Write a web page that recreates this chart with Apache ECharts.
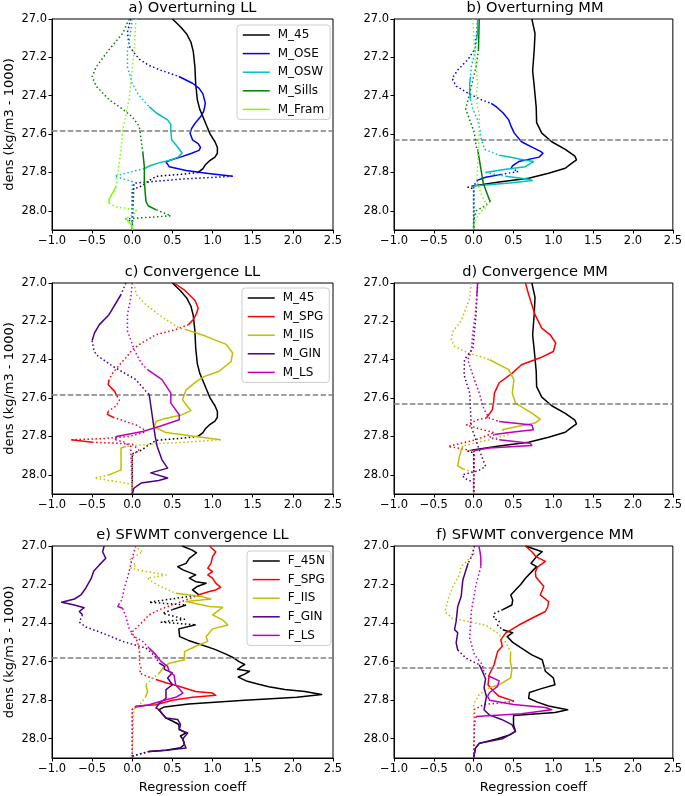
<!DOCTYPE html>
<html>
<head>
<meta charset="utf-8">
<script src="https://cdn.jsdelivr.net/npm/echarts@6/dist/echarts.min.js"></script>
<style>
html,body{margin:0;padding:0;background:#fff;}
#chart{width:685px;height:796px;}
</style>
</head>
<body>
<div id="chart"></div>
<script>
// ---------- axis ticks / reference levels ----------
const Y_TICKS = [27.0, 27.2, 27.4, 27.6, 27.8, 28.0];
const X_TICKS = [-1.0, -0.5, 0.0, 0.5, 1.0, 1.5, 2.0, 2.5];
const THRESH_LL = 27.58;
const THRESH_MM = 27.63;
const X_LABEL = 'Regression coeff';
const Y_LABEL = 'dens (kg/m3 - 1000)';

// ---------- data: [density, coefficient, significant(1)=solid / 0=dotted] ----------
// a) Overturning LL  /  c) Convergence LL
const M45_LL = [[27.00,0.50,1],[27.04,0.60,1],[27.08,0.68,1],[27.12,0.73,1],[27.17,0.76,1],[27.25,0.78,1],[27.34,0.79,1],[27.42,0.81,1],[27.47,0.84,1],[27.51,0.88,1],[27.56,0.93,1],[27.60,0.97,1],[27.64,1.03,1],[27.67,1.06,1],[27.70,1.06,1],[27.72,1.03,1],[27.74,0.96,1],[27.76,0.91,1],[27.78,0.88,1],[27.80,0.82,0],[27.81,0.60,0],[27.82,0.30,0],[27.845,0.20,0],[27.87,0.12,0],[27.89,0.00,0],[28.10,0.00,0]];
const M_OSE_LL = [[27.00,-0.02,0],[27.07,-0.06,0],[27.14,-0.04,0],[27.18,0.03,0],[27.21,0.09,0],[27.24,0.20,0],[27.265,0.34,0],[27.285,0.48,0],[27.30,0.58,1],[27.335,0.75,1],[27.36,0.83,1],[27.39,0.88,1],[27.44,0.91,1],[27.48,0.89,1],[27.51,0.85,1],[27.545,0.78,1],[27.57,0.74,1],[27.595,0.72,1],[27.63,0.75,1],[27.65,0.82,1],[27.67,0.85,1],[27.685,0.83,1],[27.70,0.74,1],[27.72,0.60,1],[27.735,0.48,1],[27.745,0.42,1],[27.77,0.46,1],[27.79,0.67,1],[27.805,0.95,1],[27.82,1.25,0],[27.835,0.60,0],[27.856,0.02,0],[28.10,0.00,0]];
const M_OSW_LL = [[27.00,0.00,0],[27.07,-0.02,0],[27.16,-0.06,0],[27.25,-0.06,0],[27.335,0.00,0],[27.39,0.07,0],[27.43,0.15,0],[27.457,0.21,1],[27.49,0.30,1],[27.526,0.44,1],[27.55,0.48,1],[27.58,0.48,1],[27.63,0.49,1],[27.665,0.56,1],[27.70,0.62,1],[27.72,0.57,1],[27.735,0.48,1],[27.75,0.33,1],[27.765,0.22,1],[27.78,0.15,0],[27.80,-0.05,0],[27.82,-0.22,0],[27.835,-0.10,0],[27.848,0.00,0],[28.10,0.00,0]];
const M_SILLS_LL = [[27.00,-0.04,0],[27.075,-0.12,0],[27.16,-0.29,0],[27.25,-0.45,0],[27.30,-0.50,0],[27.35,-0.45,0],[27.42,-0.29,0],[27.47,-0.12,0],[27.51,0.00,0],[27.56,0.087,0],[27.63,0.11,0],[27.69,0.13,1],[27.77,0.15,1],[27.84,0.15,1],[27.90,0.16,1],[27.95,0.17,1],[27.975,0.20,1],[27.995,0.30,0],[28.026,0.48,0],[28.042,-0.08,0],[28.06,0.00,0],[28.10,0.00,0]];
const M_FRAM_LL = [[27.00,0.045,0],[27.16,0.025,0],[27.335,-0.02,0],[27.42,-0.04,0],[27.50,-0.08,0],[27.58,-0.12,0],[27.68,-0.14,0],[27.77,-0.17,0],[27.83,-0.19,0],[27.873,-0.20,1],[27.91,-0.25,1],[27.94,-0.29,1],[27.96,-0.29,0],[27.98,-0.20,0],[27.995,0.045,0],[28.01,0.05,0],[28.04,-0.08,1],[28.06,-0.04,1],[28.08,0.00,1],[28.10,0.00,1]];
// b) Overturning MM  /  d) Convergence MM
const M45_MM = [[27.00,0.73,1],[27.075,0.77,1],[27.16,0.76,1],[27.27,0.74,1],[27.35,0.76,1],[27.46,0.785,1],[27.54,0.79,1],[27.595,0.855,1],[27.64,0.98,1],[27.68,1.15,1],[27.715,1.27,1],[27.734,1.29,1],[27.755,1.22,1],[27.778,1.15,1],[27.804,0.94,1],[27.83,0.69,1],[27.85,0.32,1],[27.87,-0.01,0],[27.877,-0.07,0],[27.885,0.00,0],[28.10,0.00,0]];
const M_OSE_MM = [[27.00,0.05,0],[27.075,0.04,0],[27.16,0.01,0],[27.21,-0.07,0],[27.266,-0.20,0],[27.31,-0.27,0],[27.35,-0.22,0],[27.387,-0.07,0],[27.42,0.09,0],[27.44,0.22,1],[27.46,0.29,1],[27.49,0.37,1],[27.526,0.44,1],[27.56,0.47,1],[27.595,0.51,1],[27.64,0.60,1],[27.672,0.75,1],[27.69,0.84,1],[27.70,0.87,1],[27.72,0.82,1],[27.743,0.567,1],[27.764,0.49,1],[27.778,0.47,0],[27.795,0.56,0],[27.81,0.35,1],[27.825,0.15,1],[27.84,0.05,0],[27.87,0.00,0],[28.10,0.00,0]];
const M_OSW_MM = [[27.00,0.05,1],[27.06,0.05,1],[27.10,0.04,0],[27.16,0.02,0],[27.25,-0.03,0],[27.30,-0.04,1],[27.335,-0.05,1],[27.38,-0.05,1],[27.42,-0.04,0],[27.47,-0.01,0],[27.526,0.05,0],[27.58,0.08,0],[27.63,0.095,0],[27.68,0.14,0],[27.71,0.32,1],[27.72,0.45,1],[27.73,0.57,1],[27.743,0.75,1],[27.77,0.65,1],[27.786,0.36,1],[27.80,0.15,0],[27.82,0.40,1],[27.835,0.69,1],[27.842,0.735,1],[27.855,0.45,1],[27.87,0.00,0],[28.10,0.00,0]];
const M_SILLS_MM = [[27.00,0.07,1],[27.08,0.065,1],[27.16,0.06,0],[27.25,0.03,0],[27.35,-0.03,0],[27.42,-0.07,0],[27.47,-0.10,0],[27.526,-0.05,0],[27.595,0.01,0],[27.665,0.03,0],[27.68,0.05,1],[27.78,0.09,1],[27.856,0.12,1],[27.89,0.15,1],[27.94,0.195,1],[27.95,0.21,0],[27.977,0.13,0],[28.00,0.03,0],[28.05,0.00,0],[28.10,0.00,0]];
const M_FRAM_MM = [[27.00,-0.01,0],[27.16,0.01,0],[27.335,0.05,0],[27.42,0.03,0],[27.50,0.07,0],[27.595,0.07,0],[27.68,0.06,0],[27.77,0.05,0],[27.84,0.04,0],[27.908,0.09,0],[27.977,0.17,0],[28.00,0.10,0],[28.03,0.05,0],[28.055,0.01,0],[28.10,0.00,0]];
// c) Convergence LL
const M_SPG_LL = [[27.00,0.52,1],[27.04,0.66,1],[27.09,0.78,1],[27.13,0.82,1],[27.16,0.80,1],[27.19,0.76,1],[27.217,0.70,0],[27.243,0.54,0],[27.27,0.29,0],[27.32,0.09,0],[27.348,0.00,0],[27.39,-0.08,0],[27.417,-0.14,0],[27.47,-0.245,0],[27.504,-0.29,1],[27.53,-0.30,1],[27.565,-0.22,1],[27.59,-0.19,0],[27.61,-0.16,0],[27.64,-0.20,0],[27.67,-0.30,1],[27.685,-0.31,1],[27.70,-0.24,0],[27.74,0.045,0],[27.765,0.15,0],[27.78,0.14,0],[27.80,-0.04,0],[27.812,-0.40,0],[27.817,-0.76,1],[27.83,-0.50,0],[27.835,-0.20,0],[27.84,0.00,0],[27.87,0.08,0],[27.90,0.00,0],[28.10,0.00,0]];
const M_IIS_LL = [[27.00,0.02,0],[27.06,0.05,0],[27.113,0.17,0],[27.18,0.38,0],[27.235,0.585,0],[27.243,0.67,1],[27.278,0.92,1],[27.32,1.17,1],[27.365,1.25,1],[27.41,1.23,1],[27.46,1.08,1],[27.487,0.90,1],[27.513,0.80,1],[27.557,0.67,1],[27.608,0.625,1],[27.635,0.67,1],[27.665,0.73,1],[27.69,0.60,1],[27.705,0.42,1],[27.72,0.30,1],[27.75,0.27,1],[27.765,0.35,1],[27.78,0.42,1],[27.80,0.79,1],[27.817,1.10,0],[27.83,0.67,0],[27.838,0.29,0],[27.852,-0.08,1],[27.86,-0.14,1],[27.90,-0.14,1],[27.974,-0.14,1],[28.00,-0.29,0],[28.017,-0.47,0],[28.035,-0.20,0],[28.05,0.00,0],[28.10,0.00,0]];
const M_GIN_LL = [[27.00,-0.08,0],[27.04,-0.12,0],[27.06,-0.14,1],[27.165,-0.29,1],[27.217,-0.41,1],[27.26,-0.47,1],[27.30,-0.50,0],[27.348,-0.48,0],[27.374,-0.45,0],[27.435,-0.24,0],[27.504,0.045,0],[27.574,0.19,0],[27.58,0.21,1],[27.696,0.25,1],[27.80,0.285,1],[27.852,0.31,1],[27.922,0.37,1],[27.965,0.44,1],[27.99,0.23,1],[28.017,0.44,1],[28.03,0.33,1],[28.043,0.11,1],[28.07,0.02,1],[28.10,0.00,1]];
const M_LS_LL = [[27.00,0.00,0],[27.08,-0.02,0],[27.165,-0.06,0],[27.25,-0.06,0],[27.348,0.025,0],[27.417,0.11,0],[27.452,0.19,1],[27.504,0.37,1],[27.574,0.48,1],[27.626,0.48,1],[27.687,0.585,1],[27.713,0.585,1],[27.748,0.335,1],[27.774,0.13,1],[27.80,-0.20,1],[27.817,-0.21,0],[27.83,-0.10,0],[27.852,-0.02,0],[28.10,0.00,0]];
// d) Convergence MM
const M_SPG_MM = [[27.00,0.65,1],[27.06,0.69,1],[27.165,0.77,1],[27.235,0.855,1],[27.27,0.96,1],[27.313,1.03,1],[27.357,1.00,1],[27.39,0.835,1],[27.426,0.60,1],[27.47,0.485,1],[27.52,0.32,1],[27.574,0.26,1],[27.62,0.25,1],[27.66,0.235,1],[27.704,0.16,0],[27.713,0.05,0],[27.74,-0.09,0],[27.765,0.11,0],[27.78,0.26,0],[27.817,0.03,0],[27.852,-0.32,0],[27.873,-0.03,0],[27.88,0.00,0],[28.10,0.00,0]];
const M_IIS_MM = [[27.00,-0.03,0],[27.08,-0.05,0],[27.20,-0.16,0],[27.252,-0.26,0],[27.296,-0.28,0],[27.33,-0.24,0],[27.365,-0.07,0],[27.39,0.13,0],[27.40,0.20,1],[27.452,0.44,1],[27.504,0.505,1],[27.574,0.485,1],[27.626,0.525,1],[27.678,0.73,1],[27.71,0.835,1],[27.73,0.77,1],[27.748,0.545,1],[27.765,0.36,0],[27.79,0.44,0],[27.817,0.195,0],[27.849,-0.136,1],[27.905,-0.18,1],[27.953,-0.20,1],[27.97,-0.13,0],[27.983,-0.03,0],[28.00,0.00,0],[28.10,0.00,0]];
const M_GIN_MM = [[27.00,0.05,0],[27.165,0.03,0],[27.339,-0.01,0],[27.40,-0.115,0],[27.48,-0.12,0],[27.574,-0.05,0],[27.748,-0.03,0],[27.87,0.07,0],[27.957,0.15,0],[27.98,0.05,0],[28.00,-0.14,0],[28.017,-0.12,0],[28.04,0.00,0],[28.10,0.00,0]];
const M_LS_MM = [[27.00,0.05,1],[27.06,0.04,0],[27.165,0.02,0],[27.252,-0.01,0],[27.357,-0.03,0],[27.40,-0.075,0],[27.504,0.01,0],[27.574,0.07,0],[27.66,0.13,0],[27.704,0.195,0],[27.722,0.32,1],[27.74,0.73,1],[27.765,0.75,1],[27.777,0.50,1],[27.79,0.26,0],[27.805,0.20,0],[27.817,0.32,1],[27.835,0.71,1],[27.847,0.73,1],[27.86,0.195,1],[27.873,0.01,0],[28.10,0.00,0]];
// e) SFWMT convergence LL
const F_45N_LL = [[27.00,0.62,1],[27.02,0.74,1],[27.035,0.80,1],[27.064,0.71,1],[27.09,0.67,1],[27.107,0.565,1],[27.124,0.63,1],[27.15,0.79,1],[27.167,0.71,1],[27.185,0.79,1],[27.193,0.92,1],[27.21,0.81,1],[27.228,0.75,1],[27.254,0.83,0],[27.292,0.21,0],[27.306,0.67,1],[27.33,0.50,0],[27.349,0.38,0],[27.38,0.65,0],[27.395,0.36,0],[27.409,0.79,1],[27.43,0.58,1],[27.47,0.59,1],[27.49,0.70,1],[27.51,0.84,1],[27.535,1.02,1],[27.56,1.16,1],[27.58,1.26,1],[27.60,1.33,1],[27.615,1.40,1],[27.625,1.36,1],[27.64,1.31,1],[27.65,1.46,1],[27.665,1.40,1],[27.68,1.32,1],[27.70,1.42,1],[27.715,1.55,1],[27.73,1.70,1],[27.745,1.90,1],[27.755,2.15,1],[27.77,2.36,1],[27.785,2.05,1],[27.80,1.40,1],[27.82,0.70,1],[27.835,0.40,1],[27.85,0.33,1],[27.874,0.38,1],[27.893,0.42,1],[27.908,0.50,1],[27.926,0.58,1],[27.952,0.585,1],[27.97,0.67,1],[27.986,0.60,1],[28.003,0.63,1],[28.03,0.65,1],[28.047,0.60,1],[28.06,0.42,1],[28.066,0.21,0],[28.09,0.00,0],[28.10,0.00,0]];
const F_SPG_LL = [[27.00,0.96,1],[27.03,1.04,1],[27.055,1.00,1],[27.09,0.98,1],[27.115,0.94,1],[27.133,1.00,1],[27.15,0.94,1],[27.167,1.00,1],[27.193,1.04,1],[27.214,1.10,1],[27.228,1.04,1],[27.236,0.96,1],[27.253,0.83,0],[27.28,0.67,0],[27.305,0.50,0],[27.33,0.34,0],[27.357,0.21,0],[27.41,0.09,0],[27.452,-0.016,0],[27.495,0.066,0],[27.55,0.09,0],[27.607,0.09,0],[27.634,0.11,0],[27.66,0.09,0],[27.677,0.19,0],[27.693,0.295,1],[27.71,0.42,1],[27.728,0.58,1],[27.755,0.79,1],[27.763,1.00,1],[27.775,1.04,1],[27.785,0.75,1],[27.80,0.50,1],[27.824,0.295,1],[27.83,0.046,0],[27.848,0.00,0],[28.10,0.00,0]];
const F_IIS_LL = [[27.00,0.025,0],[27.03,0.13,0],[27.072,-0.04,0],[27.10,0.05,0],[27.115,-0.016,0],[27.13,0.14,0],[27.15,0.42,0],[27.167,0.19,0],[27.20,0.30,0],[27.245,0.54,1],[27.263,0.875,1],[27.275,0.98,1],[27.288,0.67,1],[27.314,0.96,1],[27.318,1.125,1],[27.357,1.00,1],[27.383,1.125,1],[27.41,1.19,1],[27.43,1.00,1],[27.47,0.92,1],[27.495,0.94,1],[27.52,0.79,1],[27.548,0.65,1],[27.59,0.65,1],[27.608,0.46,1],[27.634,0.38,1],[27.66,0.335,0],[27.686,0.25,0],[27.72,0.17,1],[27.755,0.19,1],[27.78,0.17,0],[27.824,0.09,0],[27.845,0.02,0],[28.10,0.00,0]];
const F_GIN_LL = [[27.00,-0.35,1],[27.03,-0.37,1],[27.064,-0.33,1],[27.098,-0.41,1],[27.13,-0.48,1],[27.167,-0.51,1],[27.219,-0.58,1],[27.254,-0.64,1],[27.275,-0.72,1],[27.292,-0.88,1],[27.306,-0.72,1],[27.32,-0.60,1],[27.34,-0.66,1],[27.357,-0.62,0],[27.395,-0.66,0],[27.42,-0.58,0],[27.452,-0.37,0],[27.495,-0.12,0],[27.53,0.17,0],[27.57,0.28,0],[27.608,0.336,1],[27.624,0.40,1],[27.64,0.40,1],[27.658,0.50,1],[27.685,0.44,1],[27.72,0.50,1],[27.745,0.42,1],[27.79,0.42,1],[27.814,0.34,1],[27.84,0.295,1],[27.85,0.336,1],[27.874,0.38,1],[27.893,0.42,1],[27.90,0.565,1],[27.926,0.60,1],[27.953,0.585,1],[27.97,0.69,1],[27.98,0.67,1],[28.00,0.63,1],[28.03,0.65,1],[28.048,0.67,1],[28.06,0.42,1],[28.066,0.21,0],[28.09,0.00,0],[28.10,0.00,0]];
const F_LS_LL = [[27.00,0.04,0],[27.064,0.00,0],[27.15,-0.05,0],[27.219,-0.10,0],[27.28,-0.13,0],[27.297,-0.16,1],[27.314,-0.18,1],[27.323,-0.12,0],[27.366,-0.08,0],[27.426,-0.04,0],[27.47,0.025,0],[27.495,0.13,0],[27.53,0.21,1],[27.565,0.295,1],[27.60,0.36,1],[27.625,0.44,1],[27.651,0.46,1],[27.67,0.52,1],[27.72,0.54,1],[27.763,0.63,1],[27.785,0.54,1],[27.80,0.40,1],[27.824,0.21,1],[27.835,0.05,0],[27.848,0.00,0],[28.10,0.00,0]];
// f) SFWMT convergence MM
const F_45N_MM = [[27.00,0.65,1],[27.03,0.86,1],[27.05,0.80,1],[27.09,0.72,1],[27.107,0.79,1],[27.133,0.73,1],[27.167,0.65,1],[27.20,0.59,1],[27.228,0.525,1],[27.254,0.465,1],[27.28,0.49,1],[27.306,0.48,1],[27.33,0.365,0],[27.35,0.26,0],[27.374,0.25,0],[27.39,0.32,0],[27.41,0.30,0],[27.435,0.365,1],[27.45,0.49,1],[27.47,0.42,1],[27.50,0.49,1],[27.53,0.60,1],[27.565,0.73,1],[27.59,0.86,1],[27.62,0.88,1],[27.65,0.90,1],[27.684,1.00,1],[27.72,1.02,1],[27.74,0.85,1],[27.76,0.70,1],[27.79,0.69,1],[27.81,0.80,1],[27.83,0.94,1],[27.85,1.18,1],[27.864,1.02,1],[27.88,0.50,1],[27.90,0.50,1],[27.927,0.50,1],[27.962,0.525,1],[27.98,0.45,1],[28.00,0.30,1],[28.024,0.07,1],[28.05,0.02,1],[28.10,0.00,1]];
const F_SPG_MM = [[27.00,0.65,1],[27.03,0.73,1],[27.055,0.78,1],[27.08,0.90,1],[27.11,0.80,1],[27.133,0.775,1],[27.16,0.78,1],[27.21,0.88,1],[27.254,0.835,1],[27.288,0.94,1],[27.315,0.93,1],[27.34,0.90,1],[27.375,0.73,1],[27.41,0.567,1],[27.452,0.40,1],[27.487,0.34,1],[27.52,0.36,1],[27.548,0.30,1],[27.616,0.256,1],[27.668,0.195,1],[27.72,0.18,1],[27.75,0.24,1],[27.78,0.32,1],[27.805,0.505,0],[27.814,0.34,0],[27.822,0.13,0],[27.848,0.01,0],[28.10,0.00,0]];
const F_IIS_MM = [[27.00,-0.03,0],[27.038,0.01,0],[27.072,-0.07,0],[27.107,-0.157,0],[27.15,-0.18,0],[27.21,-0.26,0],[27.262,-0.31,0],[27.34,-0.36,0],[27.375,-0.27,0],[27.41,0.15,0],[27.452,0.30,0],[27.50,0.40,0],[27.548,0.464,1],[27.557,0.48,1],[27.60,0.46,1],[27.64,0.48,1],[27.684,0.464,1],[27.72,0.32,1],[27.736,0.195,0],[27.77,0.07,0],[27.82,0.00,0],[28.10,0.00,0]];
const F_GIN_MM = [[27.00,0.01,0],[27.05,-0.02,0],[27.09,-0.07,1],[27.176,-0.136,1],[27.262,-0.157,1],[27.314,-0.20,1],[27.39,-0.22,1],[27.434,-0.24,1],[27.45,-0.20,1],[27.503,-0.22,1],[27.54,-0.20,0],[27.582,-0.095,0],[27.616,0.07,1],[27.651,0.11,1],[27.69,0.15,1],[27.736,0.13,1],[27.78,0.16,1],[27.85,0.13,1],[27.876,0.195,1],[27.90,0.35,1],[27.927,0.48,1],[27.962,0.525,1],[27.98,0.45,1],[28.00,0.36,1],[28.024,0.07,1],[28.05,0.02,1],[28.10,0.00,1]];
const F_LS_MM = [[27.00,0.065,1],[27.03,0.08,1],[27.06,0.09,1],[27.107,0.09,0],[27.20,0.03,0],[27.34,-0.03,0],[27.478,-0.05,0],[27.565,0.01,0],[27.616,0.11,0],[27.658,0.13,0],[27.676,0.195,1],[27.70,0.32,1],[27.728,0.30,1],[27.76,0.20,1],[27.78,0.175,1],[27.80,0.20,1],[27.822,0.50,1],[27.838,0.90,1],[27.85,0.98,1],[27.87,0.60,1],[27.885,0.03,0],[27.934,0.01,0],[28.10,0.00,0]];

// ---------- styling ----------
const FONT = 'DejaVu Sans';
const COL = {M_45:'#000000', M_OSE:'#0000ff', M_OSW:'#00bfbf', M_Sills:'#008000', M_Fram:'#7cfc00',
             M_SPG:'#ff0000', M_IIS:'#bfbf00', M_GIN:'#4b0082', M_LS:'#bf00bf',
             F_45N:'#000000', F_SPG:'#ff0000', F_IIS:'#bfbf00', F_GIN:'#4b0082', F_LS:'#bf00bf'};

const LEFT_X = 52, RIGHT_X = 394, PW_L = 281, PW_R = 282;
const panels = [
  {key:'a', title:'a) Overturning LL', grid:[LEFT_X, 19, PW_L, 211], thr:THRESH_LL, left:true, bottom:false,
   legend:[237, 25], curves:[['M_45',M45_LL],['M_OSE',M_OSE_LL],['M_OSW',M_OSW_LL],['M_Sills',M_SILLS_LL],['M_Fram',M_FRAM_LL]]},
  {key:'b', title:'b) Overturning MM', grid:[RIGHT_X, 19, PW_R, 211], thr:THRESH_MM, left:false, bottom:false,
   legend:null, curves:[['M_45',M45_MM],['M_OSE',M_OSE_MM],['M_OSW',M_OSW_MM],['M_Sills',M_SILLS_MM],['M_Fram',M_FRAM_MM]]},
  {key:'c', title:'c) Convergence LL', grid:[LEFT_X, 283, PW_L, 211], thr:THRESH_LL, left:true, bottom:false,
   legend:[242, 288], curves:[['M_45',M45_LL],['M_SPG',M_SPG_LL],['M_IIS',M_IIS_LL],['M_GIN',M_GIN_LL],['M_LS',M_LS_LL]]},
  {key:'d', title:'d) Convergence MM', grid:[RIGHT_X, 283, PW_R, 211], thr:THRESH_MM, left:false, bottom:false,
   legend:null, curves:[['M_45',M45_MM],['M_SPG',M_SPG_MM],['M_IIS',M_IIS_MM],['M_GIN',M_GIN_MM],['M_LS',M_LS_MM]]},
  {key:'e', title:'e) SFWMT convergence LL', grid:[LEFT_X, 546, PW_L, 212], thr:THRESH_LL, left:true, bottom:true,
   legend:[247, 551], curves:[['F_45N',F_45N_LL],['F_SPG',F_SPG_LL],['F_IIS',F_IIS_LL],['F_GIN',F_GIN_LL],['F_LS',F_LS_LL]]},
  {key:'f', title:'f) SFWMT convergence MM', grid:[RIGHT_X, 546, PW_R, 212], thr:THRESH_MM, left:false, bottom:true,
   legend:null, curves:[['F_45N',F_45N_MM],['F_SPG',F_SPG_MM],['F_IIS',F_IIS_MM],['F_GIN',F_GIN_MM],['F_LS',F_LS_MM]]}
];

function fmtX(v){ const s = Math.abs(v).toFixed(1); return v < 0 ? '\u2212' + s : s; }

// split a curve into runs of solid / dotted segments (flag of a point = style of segment starting at it)
function splitRuns(pts){
  const runs = [];
  let cur = null;
  for (let i = 0; i < pts.length - 1; i++){
    const st = pts[i][2];
    if (!cur || cur.st !== st){
      cur = {st:st, pts:[pts[i]]};
      runs.push(cur);
    }
    cur.pts.push(pts[i+1]);
  }
  return runs;
}

const grids = [], xAxes = [], yAxes = [], series = [], legends = [], graphics = [];
panels.forEach((p, gi) => {
  grids.push({left:p.grid[0], top:p.grid[1], width:p.grid[2], height:p.grid[3],
              show:true, borderColor:'#000', borderWidth:1, backgroundColor:'transparent'});
  xAxes.push({type:'value', gridIndex:gi, min:X_TICKS[0], max:X_TICKS[X_TICKS.length-1], interval:0.5,
    axisLine:{show:true, onZero:false, lineStyle:{color:'#000', width:1}},
    axisTick:{show:true, length:3.5, lineStyle:{color:'#000', width:1}},
    axisLabel:{fontSize:11.5, color:'#000', fontFamily:FONT, margin:5, formatter:fmtX, showMinLabel:true, showMaxLabel:true},
    splitLine:{show:false},
    name:p.bottom ? X_LABEL : '', nameLocation:'middle', nameGap:23,
    nameTextStyle:{fontSize:13, color:'#000', fontFamily:FONT}});
  yAxes.push({type:'value', gridIndex:gi, min:27.0, max:28.1, inverse:true,
    axisLine:{show:true, onZero:false, lineStyle:{color:'#000', width:1}},
    axisTick:{show:true, length:3.5, customValues:Y_TICKS, lineStyle:{color:'#000', width:1}},
    axisLabel:{fontSize:11.5, color:'#000', fontFamily:FONT, margin:5, customValues:Y_TICKS, formatter:v => v.toFixed(1)},
    splitLine:{show:false},
    name:p.left ? Y_LABEL : '', nameLocation:'middle', nameGap:36,
    nameTextStyle:{fontSize:13, color:'#000', fontFamily:FONT}});
  graphics.push({type:'text', x:p.grid[0] + p.grid[2]/2, y:p.grid[1] - 10.5,
    style:{text:p.title, fontSize:14.6, fontFamily:FONT, fill:'#000', textAlign:'center', textVerticalAlign:'middle'}});

  const legendNames = [];
  let zc = 2;
  p.curves.forEach(([cname, pts]) => {
    const runs = splitRuns(pts);
    let named = false;
    runs.forEach((r, k) => {
      let nm = p.key + ':' + cname + '#' + k;
      if (r.st === 1 && !named){ nm = p.key + ':' + cname; named = true; legendNames.push(nm); }
      series.push({type:'line', name:nm, xAxisIndex:gi, yAxisIndex:gi,
        data:r.pts.map(q => [q[1], q[0]]), symbol:'none', showSymbol:false, silent:true,
        animation:false, z:zc,
        itemStyle:{color:COL[cname]},
        lineStyle:{color:COL[cname], width:1.5, type:r.st === 1 ? 'solid' : [1.5, 2.5], cap:'butt', join:'round'}});
    });
    zc++;
  });
  // threshold line
  series.push({type:'line', name:p.key + ':thr', xAxisIndex:gi, yAxisIndex:gi, data:[], symbol:'none',
    silent:true, animation:false, z:20,
    markLine:{silent:true, symbol:['none','none'], label:{show:false}, animation:false,
      lineStyle:{color:'#808080', width:1.5, type:[5.5, 2.4]}, data:[{yAxis:p.thr}]}});

  if (p.legend){
    legends.push({data:legendNames, orient:'vertical', left:p.legend[0], top:p.legend[1],
      itemWidth:27, itemHeight:10, itemGap:6.6, padding:[4, 6, 4, 5],
      formatter:n => n.split(':')[1], selectedMode:false,
      itemStyle:{opacity:0},
      lineStyle:{width:1.5},
      borderColor:'#cccccc', borderWidth:1, borderRadius:3, backgroundColor:'rgba(255,255,255,0.8)',
      textStyle:{fontSize:12, fontFamily:FONT, color:'#000', padding:[0,0,0,3]}});
  }
});

const chart = echarts.init(document.getElementById('chart'), null, {renderer:'canvas'});
chart.setOption({animation:false, backgroundColor:'#ffffff',
  grid:grids, xAxis:xAxes, yAxis:yAxes, series:series, legend:legends, graphic:graphics});
</script>
</body>
</html>
